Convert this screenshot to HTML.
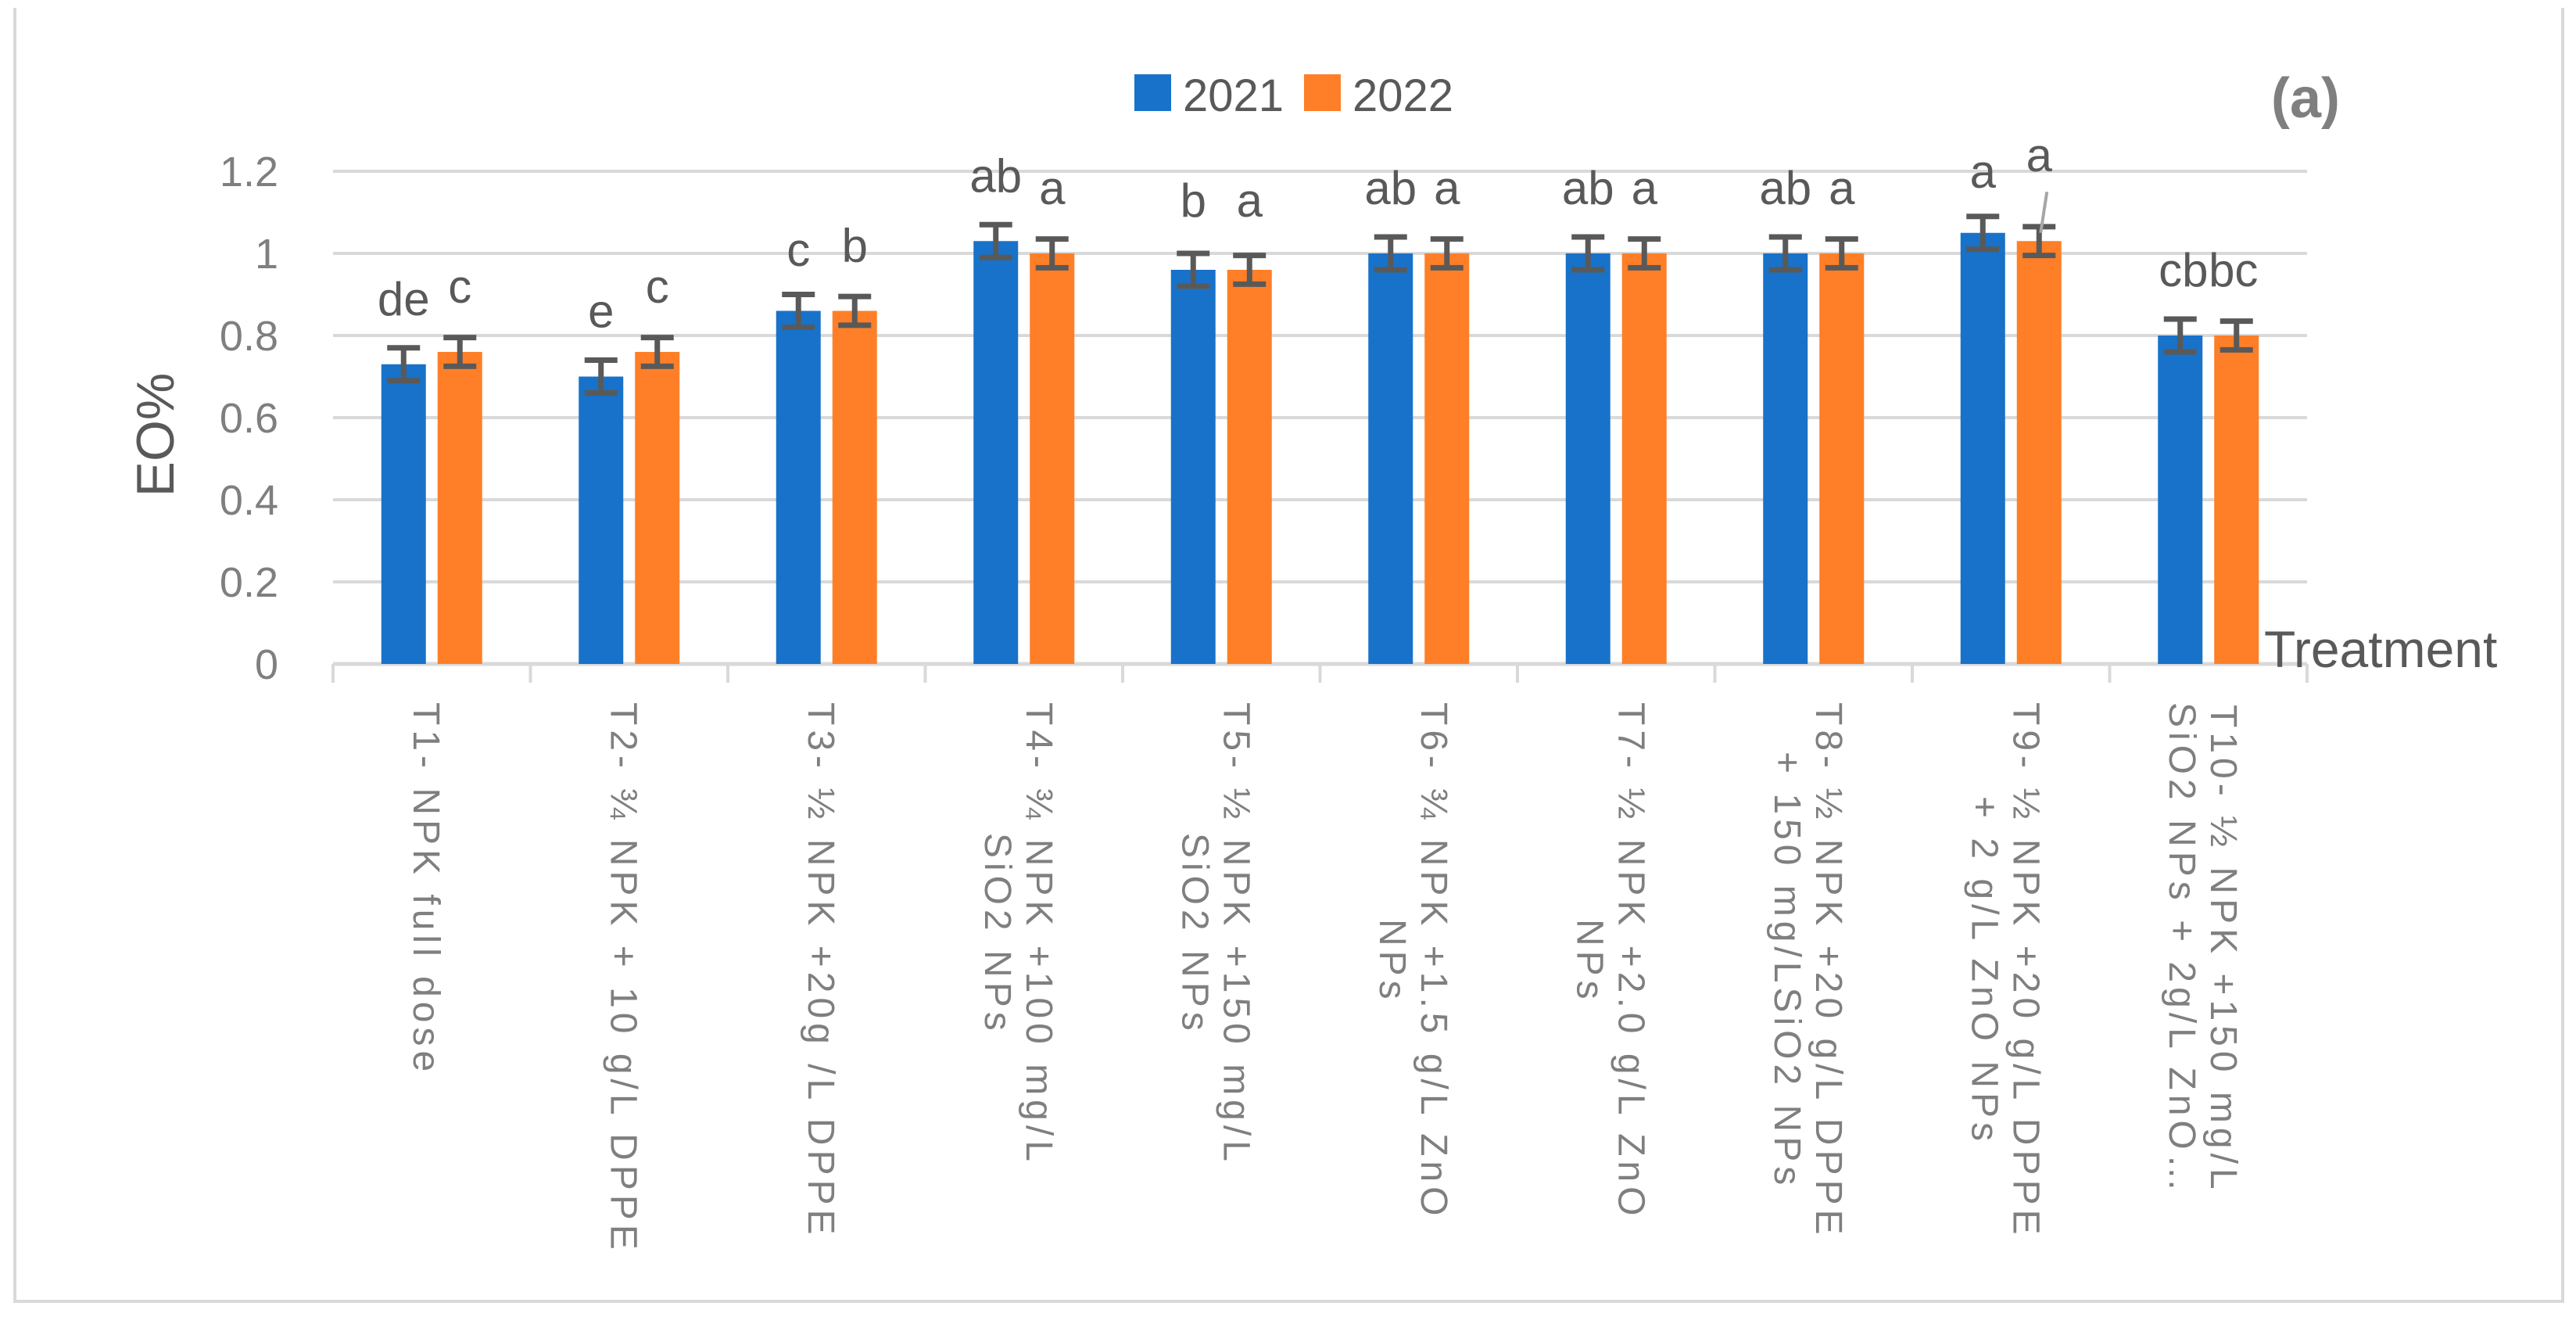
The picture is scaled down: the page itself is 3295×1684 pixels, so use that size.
<!DOCTYPE html>
<html><head><meta charset="utf-8"><style>
html,body{margin:0;padding:0;background:#fff;}
body{width:3295px;height:1684px;position:relative;overflow:hidden;font-family:"Liberation Sans",sans-serif;}
.xl{position:absolute;top:898px;writing-mode:vertical-rl;text-orientation:sideways;text-align:center;font-size:48px;line-height:53px;letter-spacing:6px;color:#7f7f7f;white-space:nowrap;transform:translateX(50%);}
</style></head><body>
<div style="position:absolute;left:17px;top:10px;width:3255px;height:1652px;border:4px solid #d9d9d9;border-top:none;"></div>
<svg id="chart" width="3295" height="1684" style="position:absolute;left:0;top:0" xmlns="http://www.w3.org/2000/svg">
<g id="grid"></g>
<g id="bars"></g>
<g id="errs"></g>
<g id="lbls"></g>
<g id="yt"></g>
<text x="0" y="0" transform="translate(222,556) rotate(-90)" text-anchor="middle" font-size="68" fill="#595959" font-family="Liberation Sans, sans-serif">EO%</text>
<text x="2896" y="853" font-size="66" fill="#595959" font-family="Liberation Sans, sans-serif">Treatment</text>
<g>
<rect x="1451" y="95" width="47" height="47" fill="#1872c9"/>
<text x="1513" y="142" font-size="58" fill="#595959" font-family="Liberation Sans, sans-serif">2021</text>
<rect x="1668" y="95" width="47" height="47" fill="#fe7f27"/>
<text x="1730" y="142" font-size="58" fill="#595959" font-family="Liberation Sans, sans-serif">2022</text>
</g>
<text x="2905" y="150" font-size="72" font-weight="bold" fill="#7f7f7f" font-family="Liberation Sans, sans-serif">(a)</text>
</svg>
<div id="xlabels"></div>
<script>
const categories=["T1- NPK full dose","T2- ¾ NPK + 10 g/L DPPE","T3- ½ NPK +20g /L DPPE","T4- ¾ NPK +100 mg/L|SiO2 NPs","T5- ½ NPK +150 mg/L|SiO2 NPs","T6- ¾ NPK +1.5 g/L ZnO|NPs","T7- ½ NPK +2.0 g/L ZnO|NPs","T8- ½ NPK +20 g/L DPPE|+ 150 mg/LSiO2 NPs","T9- ½ NPK +20 g/L DPPE|+ 2 g/L ZnO NPs","T10- ½ NPK +150 mg/L|SiO2 NPs + 2g/L ZnO…"];
const values2021=[0.73,0.70,0.86,1.03,0.96,1.00,1.00,1.00,1.05,0.80];
const values2022=[0.76,0.76,0.86,1.00,0.96,1.00,1.00,1.00,1.03,0.80];
const err2021=[0.04,0.04,0.04,0.04,0.04,0.04,0.04,0.04,0.04,0.04];
const err2022=[0.035,0.035,0.035,0.035,0.035,0.035,0.035,0.035,0.035,0.035];
const letters2021=["de","e","c","ab","b","ab","ab","ab","a","cb"];
const letters2022=["c","c","b","a","a","a","a","a","a","bc"];
const letterPos2021=[0.85,0.82,0.97,1.15,1.09,1.12,1.12,1.12,1.16,0.92];
const letterPos2022=[0.88,0.88,0.98,1.12,1.09,1.12,1.12,1.12,1.20,0.92];
const yTicks=[0,0.2,0.4,0.6,0.8,1,1.2];
const yTickLabels=["0","0.2","0.4","0.6","0.8","1","1.2"];
const NS="http://www.w3.org/2000/svg";
const X0=426,X1=2951,Y0=849,YT=219,YMAX=1.2;
const bw=(X1-X0)/categories.length;
function y(v){return Y0-(v/YMAX)*(Y0-YT);}
function cx(i){return X0+bw*(i+0.5);}
function mk(tag,attrs,parent){const e=document.createElementNS(NS,tag);for(const k in attrs)e.setAttribute(k,attrs[k]);parent.appendChild(e);return e;}
const grid=document.getElementById('grid'),bars=document.getElementById('bars'),errs=document.getElementById('errs'),lbls=document.getElementById('lbls'),yt=document.getElementById('yt');
yTicks.forEach((t,i)=>{
  const l=mk('line',{x1:X0,x2:X1,y1:y(t),y2:y(t),stroke:'#d9d9d9','stroke-width':t===0?5:4},grid);
  
  
  const tx=mk('text',{x:356,y:y(t)+19,'text-anchor':'end','font-size':54,fill:'#7f7f7f','font-family':'Liberation Sans, sans-serif'},yt);
  tx.textContent=yTickLabels[i];
  
  
});
for(let i=0;i<=categories.length;i++){
  const tk=mk('line',{x1:X0+bw*i,x2:X0+bw*i,y1:Y0,y2:Y0+24,stroke:'#d9d9d9','stroke-width':4},grid);
  
  
}
function errBar(xc,v,e){
  const g=mk('g',{stroke:'#595959','stroke-width':7},errs);
  
  
  mk('line',{x1:xc,x2:xc,y1:y(v-e),y2:y(v+e)},g);
  mk('line',{x1:xc-21,x2:xc+21,y1:y(v-e),y2:y(v-e)},g);
  mk('line',{x1:xc-21,x2:xc+21,y1:y(v+e),y2:y(v+e)},g);
}
function letter(xc,v,s){
  const t=mk('text',{x:xc,y:y(v),'text-anchor':'middle','font-size':60,fill:'#595959','font-family':'Liberation Sans, sans-serif'},lbls);
  t.textContent=s;
  
  
}
const xl=document.getElementById('xlabels');
categories.forEach((c,i)=>{
  const c0=cx(i);
  const b1=mk('rect',{x:c0-64.5,y:y(values2021[i]),width:57,height:Y0-y(values2021[i]),fill:'#1872c9'},bars);
  
  
  const b2=mk('rect',{x:c0+7.5,y:y(values2022[i]),width:57,height:Y0-y(values2022[i]),fill:'#fe7f27'},bars);
  
  
  errBar(c0-36,values2021[i],err2021[i]);
  errBar(c0+36,values2022[i],err2022[i]);
  const off=(i===categories.length-1)?32:36;
  letter(c0-off,letterPos2021[i],letters2021[i]);
  letter(c0+off,letterPos2022[i],letters2022[i]);
  const d=document.createElement('div');
  d.className='xl';
  
  
  d.innerHTML=c.split('|').join('<br>');
  d.style.right=(3295-(c0-8))+'px';
  xl.appendChild(d);
});
const ld=mk('line',{x1:cx(8)+46,y1:y(1.15),x2:cx(8)+38,y2:y(1.05),stroke:'#a6a6a6','stroke-width':4},lbls);


</script>
</body></html>
